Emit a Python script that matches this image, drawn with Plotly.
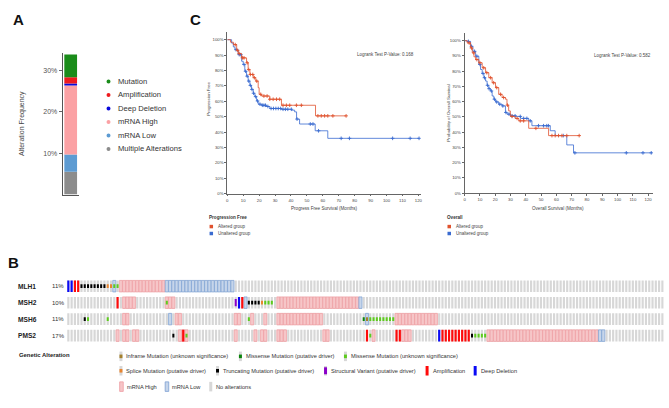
import numpy as np
import plotly.graph_objects as go

W, H = 669, 408
FONT = "Liberation Sans, Arial, sans-serif"

# ---------------- Panel A : alteration frequency ----------------
A_CATEGORIES = ["Multiple Alterations", "mRNA Low", "mRNA High", "Deep Deletion", "Amplification", "Mutation"]
A_FREQ = [5.5, 4.2, 16.7, 0.5, 1.5, 5.5]
A_TICKS = [10, 20, 30]

# ---------------- Panel C : Kaplan-Meier ----------------
PFS_ALT_T = [0, 2, 3.8, 5.9, 6.9, 9, 12.1, 13.1, 14.2, 16.3, 17.9, 19.4, 20, 21.5, 26.7, 34, 55.4]
PFS_ALT_S = [100, 98.4, 96.8, 93.1, 91, 88.2, 85, 80.6, 77.4, 75.3, 73.1, 68.8, 64.5, 63.4, 61.3, 57.4, 50.5]
PFS_ALT_END = 74.6
PFS_ALT_CENS = [5, 6.5, 7.5, 9.5, 10.5, 12.5, 13.5, 14.5, 16, 17, 18.5, 21, 23, 25, 26.7, 28.8, 30.9, 32.9,
                35, 37.1, 39.2, 43.4, 46.5, 56.9, 59, 61.1, 63.1, 66.3, 74.6]
PFS_UNALT_T = [0, 2.7, 3.8, 4.8, 6.9, 9, 10, 11, 12.1, 13.1, 14.2, 15.2, 16.3, 17.3, 18.4, 19.4, 21.5, 24.6,
               26.7, 34, 40.3, 42.3, 43.5, 45.4, 55.2, 63.1]
PFS_UNALT_S = [100, 97.8, 95.3, 93.5, 90.3, 86, 83.9, 79.5, 76.3, 73.1, 70.3, 67.7, 65.2, 63, 60.2, 58.1, 57.4,
               56.6, 55.3, 54.8, 54.2, 53.1, 48.4, 45.2, 40.8, 35.9]
PFS_UNALT_END = 120.4
PFS_UNALT_CENS = [5.5, 7.5, 8.5, 10.5, 11.5, 12.5, 13.5, 14.5, 15.5, 16.5, 17.8, 19, 20.5, 22, 23, 24, 25.5,
                  27.5, 29, 30.5, 32, 33.5, 35, 36.5, 38, 40.2, 43.8, 52.1, 53.8, 57.3, 71.5, 76.7, 103.8,
                  114.8, 120.4]
PFS_PVALUE = "Logrank Test P-Value: 0.168"

OS_ALT_T = [0, 1.7, 3.9, 5, 6.1, 7.2, 9.3, 11.5, 13.7, 15.8, 18, 20.2, 22.3, 24.5, 26.7, 27.7, 28.8, 29.9,
            33, 35.4, 41.9, 54.9]
OS_ALT_S = [100, 98.5, 95.2, 92, 89.4, 87.6, 85.5, 82.2, 79, 75.7, 72.4, 69.2, 64.8, 62.7, 61.6, 57.7, 53.9,
            50.3, 49, 47.4, 42.5, 37.7]
OS_ALT_END = 74.9
OS_ALT_CENS = [3, 4.5, 6, 8, 10, 12.5, 14.5, 17, 19, 21, 23.5, 25.5, 28, 31, 34.3, 36.4, 38.6, 46.6, 57.1,
               59.2, 61.4, 63.6, 66.8, 74.9]
OS_UNALT_T = [0, 1.7, 3.9, 5.4, 7.2, 9.3, 10.4, 11.5, 12.6, 13.7, 14.7, 15.8, 16.9, 18, 19.1, 20.2, 22.3,
              24.5, 26.7, 27.7, 29.9, 33.2, 36.5, 41.9, 44, 56, 59.2, 66.8, 71.2]
OS_UNALT_S = [100, 99.5, 96.3, 93, 89.8, 84.4, 81.1, 78.5, 75.7, 73.5, 70.7, 68.5, 67, 63.7, 61.6, 59.8, 58.3,
              57.2, 52.9, 51.8, 50.7, 50.3, 49, 47.4, 44.2, 40.9, 37.7, 31.6, 26.4]
OS_UNALT_END = 122.5
OS_UNALT_CENS = [2.5, 4.5, 6.5, 8, 10, 12, 13, 15, 16, 17.5, 19.5, 21, 23, 25, 27, 29, 31, 33, 36.4, 38.6,
                 40.7, 42.9, 48.3, 51.6, 53.7, 54.8, 64.5, 72.1, 105.7, 116.6, 122]
OS_PVALUE = "Logrank Test P-Value: 0.582"
KM_TICKS_X = list(range(0, 121, 10))
KM_TICKS_Y = list(range(0, 101, 10))

# ---------------- Panel B : oncoprint ----------------
ONCO_GENES = ["MLH1", "MSH2", "MSH6", "PMS2"]
ONCO_PCT = ["11%", "10%", "11%", "17%"]
N_SAMPLES = 182
MLH1_EXPR = [("L", 14, 14), ("H", 16, 29), ("L", 30, 50)]
MLH1_ALT = [("D", 0, 1), ("A", 2, 3), ("T", 4, 11), ("S", 12, 13), ("M", 14, 15)]
MSH2_EXPR = [("H", 17, 20), ("H", 30, 32), ("L", 54, 54), ("H", 64, 88), ("L", 89, 89)]
MSH2_ALT = [("A", 15, 15), ("M", 30, 30), ("V", 51, 51), ("D", 52, 52), ("A", 53, 53), ("T", 55, 58),
            ("S", 59, 59), ("M", 60, 62)]
MSH6_EXPR = [("H", 17, 18), ("L", 31, 31), ("H", 33, 34), ("H", 51, 52), ("H", 56, 56), ("H", 60, 60),
             ("H", 64, 77), ("L", 91, 91), ("H", 100, 112)]
MSH6_ALT = [("T", 5, 5), ("M", 6, 6), ("M", 12, 12), ("M", 55, 55), ("G", 90, 90), ("I", 91, 91), ("M", 92, 99)]
PMS2_EXPR = [("H", 15, 15), ("H", 17, 18), ("H", 20, 21), ("H", 34, 36), ("H", 51, 51), ("H", 57, 57),
             ("H", 59, 60), ("H", 64, 66), ("H", 78, 79), ("H", 93, 93), ("H", 102, 104), ("H", 128, 161),
             ("L", 162, 163)]
PMS2_ALT = [("T", 32, 32), ("A", 35, 35), ("M", 36, 36), ("A", 91, 91), ("M", 92, 92), ("A", 100, 101),
            ("D", 113, 113), ("A", 114, 122), ("T", 123, 123), ("M", 124, 127)]
ONCO_EXPR = [MLH1_EXPR, MSH2_EXPR, MSH6_EXPR, PMS2_EXPR]
ONCO_ALT = [MLH1_ALT, MSH2_ALT, MSH6_ALT, PMS2_ALT]
ONCO_LEGEND = ["Inframe Mutation (unknown significance)", "Missense Mutation (putative driver)",
               "Missense Mutation (unknown significance)", "Splice Mutation (putative driver)",
               "Truncating Mutation (putative driver)", "Structural Variant (putative driver)",
               "Amplification", "Deep Deletion", "mRNA High", "mRNA Low", "No alterations"]
ONCO_LEGEND_CODES = ["I", "G", "M", "S", "T", "V", "A", "D", "H", "L", "N"]

# ---------------- styles ----------------
A_COLORS = {"Mutation": "#1A8C1A", "Amplification": "#EE1A1E", "Deep Deletion": "#0A0ADC",
            "mRNA High": "#FBA1A4", "mRNA Low": "#5D9BD2", "Multiple Alterations": "#8C8C8C"}
RED, BLUE = "#E0522E", "#3A6BD0"
GRAY_CELL = "#D7D7D7"
EXPR_STYLE = {"H": ("#F6C6C8", "#EE9CA1"), "L": ("#C6D5EA", "#7CA0D3")}
CNA_COLOR = {"A": "#FF0A0A", "D": "#0A0AF5"}
MUT_COLOR = {"T": "#000000", "M": "#5DCB1E", "G": "#0B840B", "I": "#A4802C", "S": "#E8852F", "V": "#8B00C9"}


def xd(a, b):
    return [a / W, b / W]


def yd(top, bottom):
    return [1 - bottom / H, 1 - top / H]


fig = go.Figure()
annotations, shapes = [], []


def ann(text, x, y, size, color="#333", bold=False, xanchor="left", angle=0, family=FONT):
    annotations.append(dict(text=f"<b>{text}</b>" if bold else text, x=x / W, y=1 - y / H,
                            xref="paper", yref="paper", xanchor=xanchor, yanchor="middle",
                            showarrow=False, textangle=angle, borderpad=0,
                            font=dict(size=size, color=color, family=family)))


def rect(x0, y0, x1, y1, fill, line=None, lw=0):
    shapes.append(dict(type="rect", xref="paper", yref="paper", x0=x0 / W, x1=x1 / W,
                       y0=1 - y1 / H, y1=1 - y0 / H, fillcolor=fill,
                       line=dict(color=line or fill, width=lw), layer="above"))


# ---- Panel A bars (stacked through explicit bases)
bases = np.concatenate([[0], np.cumsum(A_FREQ)[:-1]])
for cat, val, b in zip(A_CATEGORIES, A_FREQ, bases):
    fig.add_trace(go.Bar(x=[0], y=[val], base=[b], width=0.8, marker=dict(color=A_COLORS[cat], line=dict(width=0)),
                         xaxis="x", yaxis="y", showlegend=False, hoverinfo="skip"))

# Panel A legend
for k, cat in enumerate(A_CATEGORIES[::-1]):
    yy = 82 + k * 13.6
    shapes.append(dict(type="circle", xref="paper", yref="paper", x0=106 / W, x1=110 / W,
                       y0=1 - (yy + 2) / H, y1=1 - (yy - 2) / H, fillcolor=A_COLORS[cat],
                       line=dict(width=0)))
    ann(cat, 116.5, yy, 7.6, color="#333")
ann("Alteration Frequency", 21, 124, 7, color="#444", xanchor="center", angle=-90,
    family="Liberation Sans Narrow, Arial Narrow, Liberation Sans, Arial")


# ---- Panel C KM
def step_at(T, S, t):
    i = np.searchsorted(np.array(T), t, side="right") - 1
    return np.array(S)[i]


def km(T, S, end, cens, color, xa, ya):
    fig.add_trace(go.Scatter(x=list(T) + [end], y=list(S) + [S[-1]], mode="lines", line_shape="hv",
                             line=dict(color=color, width=0.8), xaxis=xa, yaxis=ya, showlegend=False,
                             hoverinfo="skip"))
    fig.add_trace(go.Scatter(x=cens, y=step_at(T, S, np.array(cens)), mode="markers",
                             marker=dict(symbol="cross-thin", size=2.6, line=dict(color=color, width=0.9)),
                             xaxis=xa, yaxis=ya, showlegend=False, hoverinfo="skip"))


km(PFS_UNALT_T, PFS_UNALT_S, PFS_UNALT_END, PFS_UNALT_CENS, BLUE, "x2", "y2")
km(PFS_ALT_T, PFS_ALT_S, PFS_ALT_END, PFS_ALT_CENS, RED, "x2", "y2")
km(OS_UNALT_T, OS_UNALT_S, OS_UNALT_END, OS_UNALT_CENS, BLUE, "x3", "y3")
km(OS_ALT_T, OS_ALT_S, OS_ALT_END, OS_ALT_CENS, RED, "x3", "y3")

ann(PFS_PVALUE, 386, 55, 4.5, color="#444", xanchor="center")
ann(OS_PVALUE, 624.5, 56, 4.5, color="#444", xanchor="center")
ann("Progress Free Survival (Months)", 324.5, 210, 4.6, color="#444", xanchor="center")
ann("Overall Survival (Months)", 560, 210, 4.6, color="#444", xanchor="center")
ann("Progression Free", 208.5, 100, 4.4, color="#444", xanchor="center", angle=-90)
ann("Probability of Overall Survival", 449.5, 114, 4.4, color="#444", xanchor="center", angle=-90)
for lx, title in [(208, "Progression Free"), (447, "Overall")]:
    ann(title, lx, 219, 4.6, color="#333", bold=True)
    rect(lx + 1.5, 226.5, lx + 5, 230, RED)
    rect(lx + 1.5, 233.5, lx + 5, 237, BLUE)
    ann("Altered group", lx + 9, 228.3, 4.5, color="#444")
    ann("Unaltered group", lx + 9, 235.3, 4.5, color="#444")

# ---- Panel B oncoprint
samples = np.arange(N_SAMPLES)
CELL_H = 0.7
for r, (expr, alt) in enumerate(zip(ONCO_EXPR, ONCO_ALT)):
    fig.add_trace(go.Bar(x=samples, y=np.full(N_SAMPLES, CELL_H), base=np.full(N_SAMPLES, r - CELL_H / 2),
                         width=0.66, marker=dict(color=GRAY_CELL, line=dict(width=0)),
                         xaxis="x4", yaxis="y4", showlegend=False, hoverinfo="skip"))
    for code, (fill, edge) in EXPR_STYLE.items():
        idx = [i for c, a, b in expr if c == code for i in range(a, b + 1)]
        if idx:
            fig.add_trace(go.Bar(x=idx, y=[CELL_H] * len(idx), base=[r - CELL_H / 2] * len(idx), width=0.95,
                                 marker=dict(color=fill, line=dict(color=edge, width=0.7)),
                                 xaxis="x4", yaxis="y4", showlegend=False, hoverinfo="skip"))
    for code, col in CNA_COLOR.items():
        idx = [i for c, a, b in alt if c == code for i in range(a, b + 1)]
        if idx:
            fig.add_trace(go.Bar(x=idx, y=[CELL_H] * len(idx), base=[r - CELL_H / 2] * len(idx), width=0.66,
                                 marker=dict(color=col, line=dict(width=0)),
                                 xaxis="x4", yaxis="y4", showlegend=False, hoverinfo="skip"))
    for code, col in MUT_COLOR.items():
        idx = [i for c, a, b in alt if c == code for i in range(a, b + 1)]
        if idx:
            hgt = 0.45 if code == "V" else 0.22
            fig.add_trace(go.Bar(x=idx, y=[hgt] * len(idx), base=[r - hgt / 2] * len(idx), width=0.62,
                                 marker=dict(color=col, line=dict(width=0)),
                                 xaxis="x4", yaxis="y4", showlegend=False, hoverinfo="skip"))
    yrow = 288.3 + r * 16.6
    ann(ONCO_GENES[r], 16.5, yrow, 6.6, color="#222", bold=True)
    ann(ONCO_PCT[r], 50, yrow, 6, color="#333")

# Oncoprint legend
ann("Genetic Alteration", 17, 358, 5.9, color="#222", bold=True)
LEG_POS = [(120.5, 359), (240.5, 359), (346, 359), (120.5, 373.5), (217.5, 373.5), (326, 373.5),
           (428, 373.5), (476.3, 373.5), (121, 389.5), (166.7, 389.5), (210.7, 389.5)]
for label, code, (mx, my) in zip(ONCO_LEGEND, ONCO_LEGEND_CODES, LEG_POS):
    if code in EXPR_STYLE:
        rect(mx - 1.8, my - 4.8, mx + 1.8, my + 4.8, EXPR_STYLE[code][0], EXPR_STYLE[code][1], 0.8)
    elif code in CNA_COLOR:
        rect(mx - 1.5, my - 4.8, mx + 1.5, my + 4.8, CNA_COLOR[code])
    else:
        rect(mx - 1.5, my - 4.8, mx + 1.5, my + 4.8, GRAY_CELL)
        if code in MUT_COLOR:
            hh = 3.5 if code == "V" else 1.8
            rect(mx - 1.5, my - hh, mx + 1.5, my + hh, MUT_COLOR[code])
    ann(label, mx + 4.5, my, 5.7, color="#333")

# Panel letters
ann("A", 18, 20, 15, color="#111", bold=True, xanchor="center")
ann("C", 195, 20, 15, color="#111", bold=True, xanchor="center")
ann("B", 13, 264, 15, color="#111", bold=True, xanchor="center")

km_axis = dict(showline=True, linecolor="#666", linewidth=0.8, ticks="outside", ticklen=2, tickwidth=0.6,
               tickcolor="#666", tickfont=dict(size=4.3, color="#444", family=FONT), showgrid=False,
               zeroline=False, fixedrange=True)

fig.update_layout(
    width=W, height=H, margin=dict(l=0, r=0, t=0, b=0), paper_bgcolor="white", plot_bgcolor="white",
    barmode="overlay", showlegend=False, font=dict(family=FONT),
    xaxis=dict(domain=xd(62, 78), range=[-0.5, 0.5], showticklabels=False, ticks="", showline=True,
               linecolor="#555", linewidth=1, showgrid=False, zeroline=False, anchor="y"),
    yaxis=dict(domain=yd(53.7, 196), range=[0, 34.2], tickvals=A_TICKS, ticktext=[f"{t}%" for t in A_TICKS],
               ticks="outside", ticklen=3, tickcolor="#666", tickfont=dict(size=7, color="#555", family=FONT),
               showline=True, linecolor="#555", linewidth=1, showgrid=False, zeroline=False, anchor="x"),
    xaxis2=dict(domain=xd(227.3, 421.7), range=[0, 121.5], tickvals=KM_TICKS_X, anchor="y2", **km_axis),
    yaxis2=dict(domain=yd(32.25, 195), range=[0, 105], tickvals=KM_TICKS_Y,
                ticktext=[f"{t}%" for t in KM_TICKS_Y], anchor="x2", **km_axis),
    xaxis3=dict(domain=xd(465.7, 655), range=[0, 123.2], tickvals=KM_TICKS_X, anchor="y3", **km_axis),
    yaxis3=dict(domain=yd(33.3, 194.5), range=[0, 105], tickvals=KM_TICKS_Y,
                ticktext=[f"{t}%" for t in KM_TICKS_Y], anchor="x3", **km_axis),
    xaxis4=dict(domain=xd(66, 666), range=[-0.5, N_SAMPLES - 0.5], visible=False, anchor="y4"),
    yaxis4=dict(domain=yd(280, 346.4), range=[3.5, -0.5], visible=False, anchor="x4"),
    annotations=annotations, shapes=shapes,
)

fig.write_html("out.html", config={"displayModeBar": False},
               post_script="document.body.style.margin='0';document.body.style.overflow='hidden';")
